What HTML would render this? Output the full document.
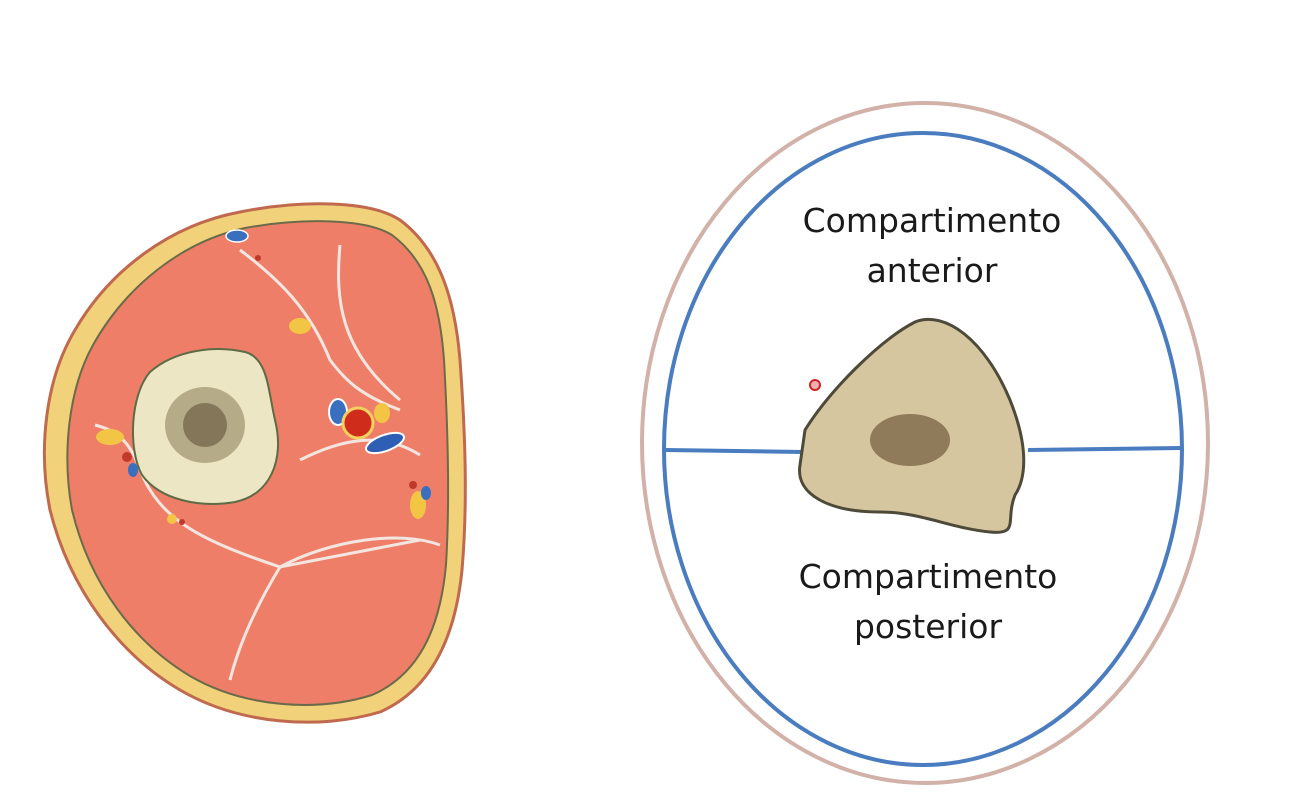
<!DOCTYPE html>
<html><head><meta charset="utf-8"><style>
html,body{margin:0;padding:0;background:#fff;width:1293px;height:812px;overflow:hidden}
</style></head><body>
<svg width="1293" height="812" viewBox="0 0 1293 812" xmlns="http://www.w3.org/2000/svg">
<path d="M240,212 C300,200 370,200 400,220 C440,250 455,300 460,360 C465,430 468,500 462,570 C455,640 430,690 380,712 C320,730 240,725 180,690 C120,655 70,590 50,510 C38,450 45,380 75,330 C110,270 170,225 240,212 Z" fill="#f1d27a" stroke="#c0694f" stroke-width="3"/>
<path d="M245,228 C300,218 365,218 392,235 C428,262 440,305 444,360 C448,430 450,500 446,565 C440,630 418,675 372,695 C318,712 245,708 190,676 C135,643 90,585 72,510 C62,455 68,390 93,345 C125,288 180,242 245,228 Z" fill="#ee7e68" stroke="#6b6b4a" stroke-width="2"/>
<g fill="none" stroke="#f3e6e0" stroke-width="3">
<path d="M240,250 C280,280 310,310 330,360 C345,380 360,395 400,410"/>
<path d="M340,245 C335,300 340,350 400,400"/>
<path d="M95,425 C115,430 130,440 140,470 C160,520 200,540 280,567 L420,540"/>
<path d="M280,567 C260,600 240,640 230,680"/>
<path d="M280,567 C330,540 400,530 440,545"/>
<path d="M300,460 C340,440 380,430 420,455"/>
</g>
<ellipse cx="237" cy="236" rx="11" ry="6" fill="#3a6fc0" stroke="#fff" stroke-width="1.5"/>
<path d="M150,372 C175,350 215,345 245,352 C268,358 268,390 275,420 C285,460 270,495 235,502 C200,508 160,500 142,475 C128,450 130,395 150,372 Z" fill="#ece6c4" stroke="#5e6b45" stroke-width="2"/>
<ellipse cx="205" cy="425" rx="40" ry="38" fill="#8a7a5a" opacity="0.55"/>
<ellipse cx="205" cy="425" rx="22" ry="22" fill="#6f5f45" opacity="0.7"/>
<ellipse cx="338" cy="412" rx="9" ry="13" fill="#3a6fc0" stroke="#fff" stroke-width="2"/>
<circle cx="358" cy="423" r="15" fill="#d02c1c" stroke="#f3d060" stroke-width="3"/>
<ellipse cx="385" cy="443" rx="20" ry="8" fill="#2f5fb5" stroke="#fff" stroke-width="2" transform="rotate(-20 385 443)"/>
<ellipse cx="382" cy="413" rx="8" ry="10" fill="#f3c545"/>
<ellipse cx="110" cy="437" rx="14" ry="8" fill="#f3c545"/>
<circle cx="127" cy="457" r="5" fill="#c0392b"/>
<ellipse cx="133" cy="470" rx="5" ry="7" fill="#3a6fc0"/>
<ellipse cx="300" cy="326" rx="11" ry="8" fill="#f3c545"/>
<ellipse cx="418" cy="505" rx="8" ry="14" fill="#f3c545"/>
<ellipse cx="426" cy="493" rx="5" ry="7" fill="#3a6fc0"/>
<circle cx="413" cy="485" r="4" fill="#c0392b"/>
<circle cx="172" cy="519" r="5" fill="#f3c545"/>
<circle cx="182" cy="522" r="3" fill="#c0392b"/>
<circle cx="258" cy="258" r="3" fill="#c0392b"/>
<ellipse cx="925" cy="443" rx="283" ry="340" fill="#fff" stroke="#d2b1a8" stroke-width="4"/>
<ellipse cx="923" cy="449" rx="259" ry="316" fill="none" stroke="#4a7cc0" stroke-width="4"/>
<line x1="665" y1="450" x2="802" y2="452" stroke="#4a7cc0" stroke-width="4"/>
<line x1="1028" y1="450" x2="1182" y2="448" stroke="#4a7cc0" stroke-width="4"/>
<path d="M805,430 C830,390 880,340 915,322 C945,310 985,340 1010,400 C1030,450 1025,480 1015,495 C1005,520 1020,535 990,532 C950,528 920,512 880,512 C830,512 795,495 800,465 Z" fill="#d6c6a0" stroke="#4d4a3a" stroke-width="3"/>
<ellipse cx="910" cy="440" rx="40" ry="26" fill="#7d6748" opacity="0.8"/>
<circle cx="815" cy="385" r="5" fill="#f3b0b0" stroke="#d02020" stroke-width="2"/>
<g font-family="DejaVu Sans, sans-serif" font-size="33" fill="#1a1a1a" text-anchor="middle">
<text x="932" y="232">Compartimento</text>
<text x="932" y="282">anterior</text>
<text x="928" y="588">Compartimento</text>
<text x="928" y="638">posterior</text>
</g>
</svg>
</body></html>
